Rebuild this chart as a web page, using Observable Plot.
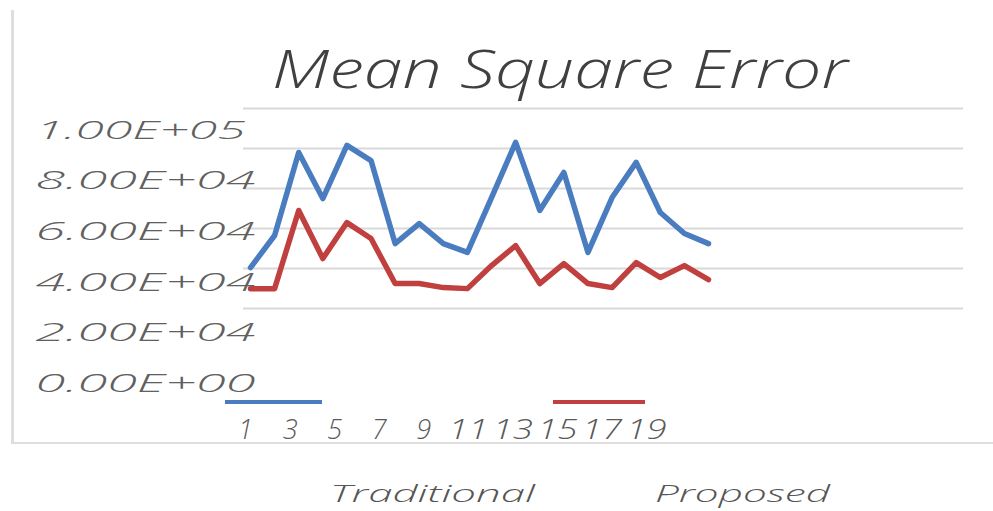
<!DOCTYPE html>
<html><head><meta charset="utf-8">
<script src="https://cdn.jsdelivr.net/npm/d3@7"></script>
<script src="https://cdn.jsdelivr.net/npm/@observablehq/plot@0.6"></script>
<style>
html,body{margin:0;padding:0;background:#fff;}
#wrap{position:relative;width:993px;height:511px;overflow:hidden;background:#fff;}
#wrap svg{position:absolute;left:0;top:0;}
#frame{position:absolute;left:11px;top:10px;width:990px;height:432px;border-left:3px solid #dedede;border-bottom:2px solid #dedede;}
.txt{position:absolute;white-space:nowrap;transform-origin:left center;}
#title{left:272px;top:40px;font:italic 300 54px/54px "Open Sans";color:#404040;}
.leg{font:italic 300 24px/24px "Open Sans";color:#555;top:481px;}
.swatch{position:absolute;height:4px;top:400px;}
</style></head>
<body>
<div id="wrap">
  <div id="frame"></div>
  <div id="grid"></div>
  <div id="main"></div>
  <div id="title" class="txt">Mean Square Error</div>
  <div class="swatch" id="sw0" style="left:225px;width:97px;"></div>
  <div class="swatch" id="sw1" style="left:553px;width:92px;"></div>
  <div class="txt leg" id="lg0" style="left:330px;"></div>
  <div class="txt leg" id="lg1" style="left:655px;"></div>
</div>
<script>
// ---- data ----
const runs = [1,2,3,4,5,6,7,8,9,10,11,12,13,14,15,16,17,18,19,20];
const traditional = [45800,58500,91300,73100,94100,88100,55300,63200,55300,51800,73500,95300,68400,83400,51800,73500,87400,67600,59300,55300];
const proposed = [37500,37500,68400,49400,63600,57300,39500,39500,37900,37500,46600,54500,39500,47400,39500,37900,47800,41900,46600,41100];
const seriesNames = ["Traditional","Proposed"];
const seriesColors = ["#4a7cc0","#c0403f"];
const yTicks = [0,20000,40000,60000,80000,100000];
const yTickLabels = ["0.00E+00","2.00E+04","4.00E+04","6.00E+04","8.00E+04","1.00E+05"];
const xTicks = [1,3,5,7,9,11,13,15,17,19];

const rows = [];
runs.forEach((r,i)=>{
  rows.push({run:r, mse:traditional[i], series:seriesNames[0]});
  rows.push({run:r, mse:proposed[i], series:seriesNames[1]});
});

// ---- grid + category axis layer ----
const grid = Plot.plot({
  width:993, height:511,
  marginLeft:243, marginRight:30, marginTop:0, marginBottom:81,
  style:{background:"transparent"},
  x:{domain:[1,19], range:[245,646], axis:null},
  y:{domain:[0,100000], range:[308,108], axis:null},
  marks:[
    Plot.gridY(yTicks,{stroke:"#d9d9d9", strokeOpacity:1, strokeWidth:2}),
    Plot.text(xTicks,{x:d=>d, text:d=>String(d), frameAnchor:"bottom", lineAnchor:"middle",
      fontSize:27, fontStyle:"italic", fontWeight:300, fontFamily:"Open Sans", fill:"#595959"})
  ]
});
document.getElementById("grid").appendChild(grid);
grid.querySelectorAll('g[aria-label="text"] text').forEach(t=>{
  if (t.textContent.length === 2) {
    t.setAttribute("textLength", 40);
    t.setAttribute("lengthAdjust","spacingAndGlyphs");
  }
});

// ---- data + value axis layer ----
const main = Plot.plot({
  width:993, height:511,
  marginLeft:35, marginRight:0, marginTop:0, marginBottom:0,
  style:{background:"transparent"},
  x:{domain:[1,20], range:[250,708], axis:null},
  y:{domain:[0,100000], range:[383,130], axis:null},
  color:{domain:seriesNames, range:seriesColors},
  marks:[
    Plot.text(yTicks,{y:d=>d, text:(d,i)=>yTickLabels[i], frameAnchor:"left", textAnchor:"start",
      fontSize:26, fontStyle:"italic", fontWeight:300, fontFamily:"Open Sans", fill:"#606060"}),
    Plot.line(rows,{x:"run", y:"mse", z:"series", stroke:"series", strokeWidth:5.5})
  ]
});
document.getElementById("main").appendChild(main);

// stretch value labels like the reference's wide lettering
main.querySelectorAll('g[aria-label="text"] text').forEach(t=>{
  t.setAttribute("textLength", t.textContent==="1.00E+05" ? 210 : 220);
  t.setAttribute("lengthAdjust","spacingAndGlyphs");
});

// legend
seriesNames.forEach((n,i)=>{
  document.getElementById("sw"+i).style.background = seriesColors[i];
  document.getElementById("lg"+i).textContent = n;
});
function fit(id,w){
  const el=document.getElementById(id);
  const cw=el.getBoundingClientRect().width;
  el.style.transform=`scaleX(${w/cw})`;
}
fit("title",576);
fit("lg0",205);
fit("lg1",175);
</script>
</body></html>
